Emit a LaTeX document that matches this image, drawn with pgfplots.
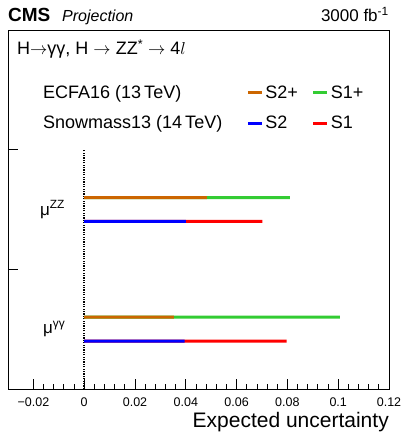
\documentclass[border=0pt]{standalone}
\usepackage{fontspec}
\setmainfont{Liberation Sans}
\usepackage{pgfplots}
\pgfplotsset{compat=1.18}
\usepackage{pgfplotstable}
\usetikzlibrary{calc}

\definecolor{sonep}{RGB}{51,204,51}
\definecolor{stwop}{RGB}{204,102,0}
\definecolor{sone}{RGB}{255,0,0}
\definecolor{stwo}{RGB}{0,0,255}

% ECFA16 (13 TeV): full = S1+, part = S2+
\pgfplotstableread{
pos  full    part
0.6  0.1007  0.0353
1.6  0.0810  0.0483
}\ecfa
% Snowmass13 (14 TeV): full = S1, part = S2
\pgfplotstableread{
pos  full    part
0.4  0.0797  0.0395
1.4  0.0701  0.0400
}\snowmass

\begin{document}
\begin{tikzpicture}
\begin{axis}[
  scale only axis, width=381pt, height=359pt,
  clip=false,
  xmin=-0.03, xmax=0.12, ymin=0, ymax=3,
  xtick={-0.02,0,0.02,0.04,0.06,0.08,0.1,0.12},
  xticklabels={−0.02,0,0.02,0.04,0.06,0.08,0.1,0.12},
  minor x tick num=4,
  ytick={1,2}, yticklabels={},
  xtick pos=left, ytick pos=left,
  tick align=inside,
  major tick length=10pt, minor tick length=5pt,
  tick style={black, line width=0.8pt},
  axis line style={line width=0.8pt},
  xticklabel style={font=\fontsize{12.5}{12.5}\selectfont, anchor=base, yshift=-17pt, inner sep=0pt},
  xlabel={Expected uncertainty},
  xlabel style={at={(rel axis cs:1,0)}, anchor=base east, yshift=-38pt,
    inner sep=0pt, font=\fontsize{21}{21}\selectfont},
  legend columns=3,
  legend cell align=left,
  legend style={at={(rel axis cs:0,1)}, anchor=north west,
    xshift=30pt, yshift=-51pt, draw=none, fill=none,
    font=\fontsize{18}{18}\selectfont, row sep=12pt,
    /tikz/column 2/.append style={column sep=22pt},
    /tikz/column 4/.append style={column sep=12pt}},
]
% reference line at zero
\addplot[black, line width=1.5pt, dash pattern=on 1.2pt off 1.2pt, forget plot] coordinates {(0,0) (0,2)};
% bars
\addplot[xbar, bar width=3pt, bar shift=0pt, draw=none, fill=sonep, forget plot]
  table[x=full, y=pos]{\ecfa};
\addplot[xbar, bar width=3pt, bar shift=0pt, draw=none, fill=stwop, forget plot]
  table[x=part, y=pos]{\ecfa};
\addplot[xbar, bar width=3pt, bar shift=0pt, draw=none, fill=sone, forget plot]
  table[x=full, y=pos]{\snowmass};
\addplot[xbar, bar width=3pt, bar shift=0pt, draw=none, fill=stwo, forget plot]
  table[x=part, y=pos]{\snowmass};

% legend
\addlegendimage{empty legend}
\addlegendentry{ECFA16 (13\,TeV)}
\addlegendimage{legend image code/.code={\draw[stwop, line width=3pt] (0pt,0pt) -- (14pt,0pt);}}
\addlegendentry{S2+}
\addlegendimage{legend image code/.code={\draw[sonep, line width=3pt] (0pt,0pt) -- (14pt,0pt);}}
\addlegendentry{S1+}
\addlegendimage{empty legend}
\addlegendentry{Snowmass13 (14\,TeV)}
\addlegendimage{legend image code/.code={\draw[stwo, line width=3pt] (0pt,0pt) -- (14pt,0pt);}}
\addlegendentry{S2}
\addlegendimage{legend image code/.code={\draw[sone, line width=3pt] (0pt,0pt) -- (14pt,0pt);}}
\addlegendentry{S1}

% labels
\node[font=\fontsize{17}{17}\selectfont] at (axis cs:-0.0125,1.5) {μ\textsuperscript{ZZ}};
\node[font=\fontsize{17}{17}\selectfont] at (axis cs:-0.0118,0.5) {μ\textsuperscript{γγ}};
\node[anchor=base west, inner sep=0pt, font=\fontsize{18}{18}\selectfont]
  at ($(rel axis cs:0,1)+(9pt,-25pt)$) {H$\rightarrow$γγ, H $\rightarrow$ ZZ\textsuperscript{*} $\rightarrow$ 4$l$};
\node[anchor=base west, inner sep=0pt, font=\bfseries\fontsize{19}{19}\selectfont]
  at ($(rel axis cs:0,1)+(0pt,8pt)$) {CMS};
\node[anchor=base west, inner sep=0pt, font=\itshape\fontsize{16}{16}\selectfont]
  at ($(rel axis cs:0,1)+(54pt,8pt)$) {Projection};
\node[anchor=base east, inner sep=0pt, font=\fontsize{17}{17}\selectfont]
  at ($(rel axis cs:1,1)+(0pt,8pt)$) {3000 fb\textsuperscript{-1}};
\end{axis}
\pgfresetboundingbox
\path[use as bounding box] ($(current axis.south west)+(-8pt,-44pt)$) rectangle ($(current axis.south west)+(395pt,389pt)$);
\end{tikzpicture}
\end{document}
